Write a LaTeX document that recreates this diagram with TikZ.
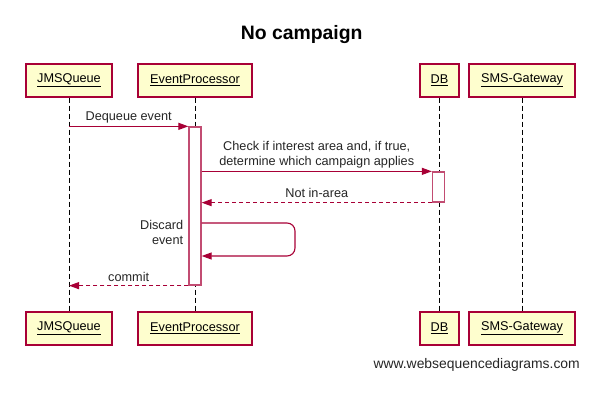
\documentclass[tikz,border=0pt]{standalone}
\usepackage{fontspec}
\setmainfont{Liberation Sans}
\usetikzlibrary{arrows.meta}
\definecolor{wsdred}{HTML}{A80036}
\definecolor{wsdfill}{HTML}{FEFECE}

\begin{document}
\begin{tikzpicture}[x=1pt, y=-1pt,
    actor/.style={draw=wsdred, fill=wsdfill, line width=1.2pt, minimum height=33pt,
      inner sep=0pt, font=\fontsize{12.7}{15}\selectfont},
    activation/.style={draw=wsdred!70, fill=white, line width=1.3pt, minimum width=12pt, inner sep=0pt},
    lifeline/.style={draw=black, line width=1pt, dash pattern=on 5pt off 3pt},
    msg/.style={draw=wsdred, line width=1.1pt, -{Triangle[length=10pt,width=7pt]}},
    reply/.style={msg, dash pattern=on 4pt off 3pt},
    lbl/.style={font=\fontsize{12.7}{15}\selectfont, text=black!85, inner sep=0pt, align=center}]

        \path [fill=white] (0,0) rectangle (609,403);
        %Title
        \node [anchor=base, font=\bfseries\fontsize{19.4}{22}\selectfont] (title) at (301.7,40) {No campaign};
        %Participants, top
        \node [actor, minimum width=86pt]  (jmsT) at (69,80.5)  {\underline{JMSQueue}};
        \node [actor, minimum width=114pt] (epT)  at (195,80.5) {\underline{EventProcessor}};
        \node [actor, minimum width=39pt]  (dbT)  at (439.5,80.5) {\underline{DB}};
        \node [actor, minimum width=106pt] (smsT) at (522,80.5) {\underline{SMS-Gateway}};
        %Participants, bottom
        \node [actor, minimum width=86pt]  (jmsB) at (69,328.5)  {\underline{JMSQueue}};
        \node [actor, minimum width=114pt] (epB)  at (195,328.5) {\underline{EventProcessor}};
        \node [actor, minimum width=39pt]  (dbB)  at (439.5,328.5) {\underline{DB}};
        \node [actor, minimum width=106pt] (smsB) at (522,328.5) {\underline{SMS-Gateway}};
        %Lifelines
        \draw [lifeline] (jmsT) -- (jmsB);
        \draw [lifeline] (epT) -- (epB);
        \draw [lifeline] (dbT) -- (dbB);
        \draw [lifeline] (smsT) -- (smsB);
        %Activations
        \node [activation, minimum height=158pt] (epAct) at (195,206) {};
        \node [activation, minimum height=30pt]  (dbAct) at (438.5,187) {};
        %Dequeue
        \draw [msg] (jmsT |- epAct.north west) -- (epAct.north west)
          node [lbl, midway, above=3pt] {Dequeue event};
        %Check
        \draw [msg] (epAct.east |- dbAct.north west) -- (dbAct.north west)
          node [lbl, midway, above=3pt] {Check if interest area and, if true,\\determine which campaign applies};
        %Not in-area
        \draw [reply] (dbAct.south west) -- (epAct.east |- dbAct.south west)
          node [lbl, midway, above=4.5pt] {Not in-area};
        %Discard
        \coordinate (discardTurn) at (295,223);
        \coordinate (discardBack) at (295,256);
        \draw [msg, rounded corners=8pt] (epAct.east |- discardTurn) -- (discardTurn)
          -- (discardBack) -- (epAct.east |- discardBack);
        \node [lbl, align=right, left=5pt] (discardLbl) at (epAct.west |- 0,232) {Discard\\event};
        %Commit
        \draw [reply] (epAct.south west) -- (jmsT |- epAct.south west)
          node [lbl, midway, above=3pt] {commit};
        %Credit
        \node [anchor=base east, inner sep=0pt, font=\fontsize{13.9}{16}\selectfont, text=black!85] (credit)
          at (580,368) {www.websequencediagrams.com};
        \useasboundingbox (0,0) rectangle (609,403);
      \end{tikzpicture}
\end{document}
